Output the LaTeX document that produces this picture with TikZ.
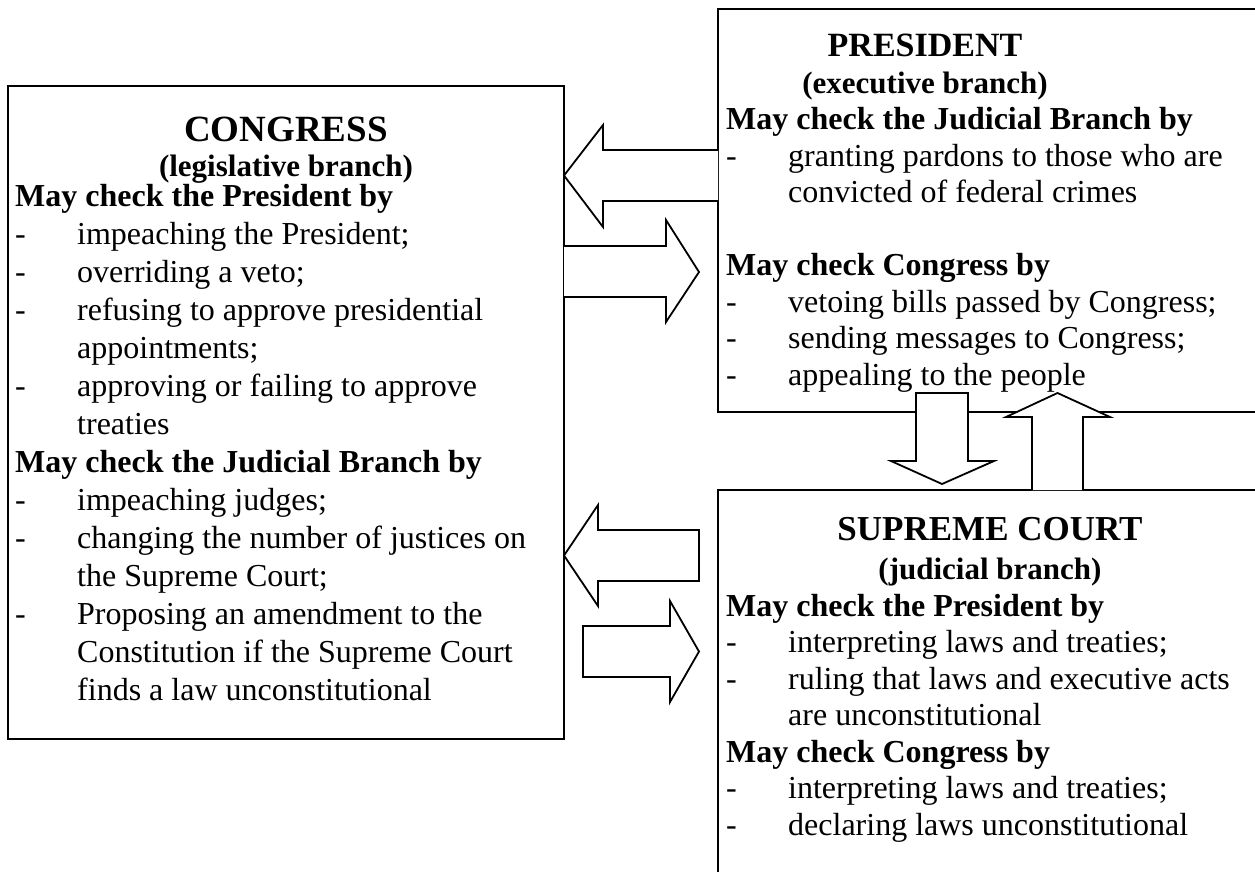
\documentclass[tikz,border=0pt]{standalone}
\usepackage{fontspec}
\setmainfont{Liberation Serif}
\usetikzlibrary{calc}

\newcommand{\itm}{\makebox[62pt][l]{-}}
\newcommand{\cnt}{\hspace*{62pt}}

\begin{document}
\begin{tikzpicture}[x=1pt,y=-1pt,
    branchbox/.style={draw, line width=2pt},
    blockarrow/.style={draw, line width=1.8pt, fill=white, line join=miter},
    bigtitle/.style={font=\bfseries\fontsize{37}{42}\selectfont, anchor=base, inner sep=0pt},
    subtitle/.style={font=\bfseries\fontsize{31}{36}\selectfont, anchor=base, inner sep=0pt},
    listtext/.style={font=\fontsize{32}{36.5}\selectfont, align=left, anchor=base west, inner sep=0pt}]
    \useasboundingbox (0,0) rectangle (1255,871);
    \clip (0,0) rectangle (1255,871);
    % the three boxes
    \coordinate (C1) at (8,86);
    \coordinate (C2) at (564,739);
    \coordinate (P1) at (718,9);
    \coordinate (P2) at (1270,412);
    \coordinate (S1) at (718,490);
    \coordinate (S2) at (1270,890);
    \draw[branchbox] (C1) rectangle (C2);
    \draw[branchbox] (P1) rectangle (P2);
    \draw[branchbox] (S1) rectangle (S2);
    % Congress (list anchored at its last line)
    \node[bigtitle] (congtitle) at (286,141) {CONGRESS};
    \node[subtitle] (congsub) at (286,176) {(legislative branch)};
    \node[listtext, font=\fontsize{32}{38}\selectfont] (conglist) at (15,700) {%
        \textbf{May check the President by}\\
        \itm impeaching the President;\\
        \itm overriding a veto;\\
        \itm refusing to approve presidential\\
        \cnt appointments;\\
        \itm approving or failing to approve\\
        \cnt treaties\\
        \textbf{May check the Judicial Branch by}\\
        \itm impeaching judges;\\
        \itm changing the number of justices on\\
        \cnt the Supreme Court;\\
        \itm Proposing an amendment to the\\
        \cnt Constitution if the Supreme Court\\
        \cnt finds a law unconstitutional};
    % President
    \node[bigtitle, font=\bfseries\fontsize{34}{38}\selectfont] (prestitle) at (925,56) {PRESIDENT};
    \node[subtitle] (pressub) at (925,93) {(executive branch)};
    \node[listtext] (preslist) at (726,385) {%
        \textbf{May check the Judicial Branch by}\\
        \itm granting pardons to those who are\\
        \cnt convicted of federal crimes\\[36.5pt]
        \textbf{May check Congress by}\\
        \itm vetoing bills passed by Congress;\\
        \itm sending messages to Congress;\\
        \itm appealing to the people};
    % Supreme Court
    \node[bigtitle, font=\bfseries\fontsize{35}{40}\selectfont] (courttitle) at (990,540) {SUPREME COURT};
    \node[subtitle] (courtsub) at (990,579) {(judicial branch)};
    \node[listtext] (courtlist) at (726,835) {%
        \textbf{May check the President by}\\
        \itm interpreting laws and treaties;\\
        \itm ruling that laws and executive acts\\
        \cnt are unconstitutional\\
        \textbf{May check Congress by}\\
        \itm interpreting laws and treaties;\\
        \itm declaring laws unconstitutional};
    % arrows between the branches
    \draw[blockarrow] (718,150) -- (603,150) -- (603,125) -- (564,175.5) -- (603,227) -- (603,201) -- (718,201);
    \draw[blockarrow] (564,246) -- (666,246) -- (666,220) -- (699,272) -- (666,322) -- (666,297) -- (564,297);
    \draw[blockarrow] (699,530) -- (598,530) -- (598,505) -- (564,555.5) -- (598,606) -- (598,581) -- (699,581) -- cycle;
    \draw[blockarrow] (583,626) -- (670,626) -- (670,601) -- (699,651.5) -- (670,702) -- (670,677) -- (583,677) -- cycle;
    \draw[blockarrow] (916,393) -- (968,393) -- (968,461) -- (994,461) -- (942,484) -- (891,461) -- (916,461) -- cycle;
    \draw[blockarrow] (1032,490) -- (1032,417) -- (1006,417) -- (1057.5,393) -- (1110,417) -- (1083,417) -- (1083,490);
\end{tikzpicture}
\end{document}
